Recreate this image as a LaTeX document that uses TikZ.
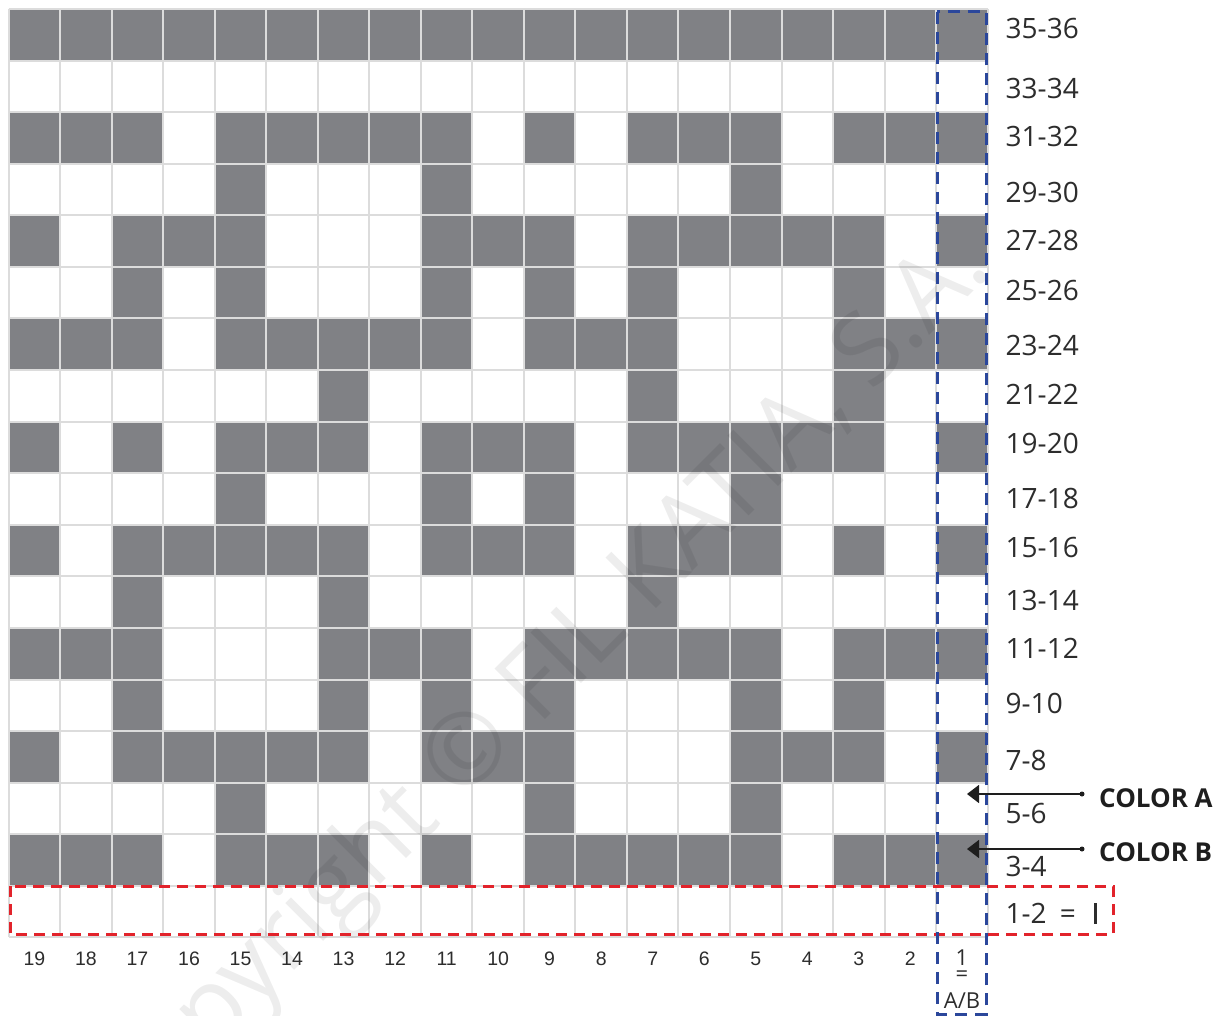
\documentclass[tikz,border=0pt]{standalone}
\usepackage{fontspec}
\setmainfont{Open Sans}
\newfontfamily\colfont{Liberation Sans}
\usetikzlibrary{arrows.meta}
\definecolor{cellgray}{RGB}{128,129,133}
\definecolor{gridline}{RGB}{220,220,220}
\definecolor{dashblue}{RGB}{43,71,155}
\definecolor{dashred}{RGB}{226,35,43}
\definecolor{txt}{RGB}{45,45,45}
\definecolor{ink}{RGB}{30,30,30}
\begin{document}
\begin{tikzpicture}[x=1pt,y=-1pt,
  cell/.style={fill=cellgray},
  gridln/.style={draw=gridline,line width=2pt},
  rowlab/.style={anchor=west,inner sep=0pt,text=txt,font=\fontsize{28}{28}\selectfont},
  collab/.style={inner sep=0pt,text=txt,font=\colfont\fontsize{19.5}{19.5}\selectfont},
  keylab/.style={inner sep=0pt,text=txt,font=\fontsize{22}{22}\selectfont},
  colorlab/.style={anchor=west,inner sep=0pt,text=ink,font=\bfseries\fontsize{26}{26}\selectfont},
  dotnode/.style={circle,fill=ink,inner sep=0pt,minimum size=5pt},
  pointer/.style={draw=ink,line width=1.5pt,-{Triangle[length=12pt,width=18pt]}},
  bluebox/.style={draw=dashblue,line width=3pt,dash pattern=on 12pt off 8pt},
  redbox/.style={draw=dashred,line width=3pt,dash pattern=on 11pt off 7pt},
  watermark/.style={rotate=45,text=black,opacity=0.07,font=\fontsize{100}{100}\selectfont}]
\useasboundingbox (0,0) rectangle (1215,1016);
\fill[white] (0,0) rectangle (1215,1016);
\def\cw{51.52}\def\ch{51.58}\def\gx{8.7}\def\gy{9}
% gray cells: row index (0 = top) / list of column numbers (19 = left ... 1 = right)
\foreach \r/\cols in {
  0/{1,2,3,4,5,6,7,8,9,10,11,12,13,14,15,16,17,18,19},
  2/{19,18,17,15,14,13,12,11,9,7,6,5,3,2,1},
  3/{15,11,5},
  4/{19,17,16,15,11,10,9,7,6,5,4,3,1},
  5/{17,15,11,9,7,3},
  6/{19,18,17,15,14,13,12,11,9,8,7,3,2,1},
  7/{13,7,3},
  8/{19,17,15,14,13,11,10,9,7,6,5,4,3,1},
  9/{15,11,9,5},
  10/{19,17,16,15,14,13,11,10,9,7,6,5,3,1},
  11/{17,13,7},
  12/{19,18,17,13,12,11,9,8,7,6,5,3,2,1},
  13/{17,13,11,9,5,3},
  14/{19,17,16,15,14,13,11,10,9,5,4,3,1},
  15/{15,9,5},
  16/{19,18,17,15,14,13,11,9,8,7,6,5,3,2,1}} {
  \foreach \c in \cols {
    \fill[cell] ({\gx+(19-\c)*\cw},{\gy+\r*\ch}) rectangle ++(\cw,\ch);
  }
}
% grid lines
\foreach \i in {0,...,19} \draw[gridln] ({\gx+\i*\cw},\gy) -- ++(0,{18*\ch});
\foreach \j in {0,...,18} \draw[gridln] (\gx,{\gy+\j*\ch}) -- ++({19*\cw},0);
% watermark
\node[watermark] (wm) at (540,688) {Copyright © FIL KATIA, S.A.};
% row labels
\node[rowlab] (r35) at (1005.5,29) {35-36};
\node[rowlab] (r33) at (1005.5,88.5) {33-34};
\node[rowlab] (r31) at (1005.5,136.5) {31-32};
\node[rowlab] (r29) at (1005.5,192) {29-30};
\node[rowlab] (r27) at (1005.5,241) {27-28};
\node[rowlab] (r25) at (1005.5,290) {25-26};
\node[rowlab] (r23) at (1005.5,345) {23-24};
\node[rowlab] (r21) at (1005.5,394) {21-22};
\node[rowlab] (r19) at (1005.5,443) {19-20};
\node[rowlab] (r17) at (1005.5,498) {17-18};
\node[rowlab] (r15) at (1005.5,547) {15-16};
\node[rowlab] (r13) at (1005.5,600) {13-14};
\node[rowlab] (r11) at (1005.5,648) {11-12};
\node[rowlab] (r9) at (1005.5,703) {9-10};
\node[rowlab] (r7) at (1005.5,760) {7-8};
\node[rowlab] (r5) at (1005.5,813) {5-6};
\node[rowlab] (r3) at (1005.5,866) {3-4};
\node[rowlab] (r1) at (1005.5,913) {1-2\hspace{13pt}=};
\draw[draw=txt,line width=3pt] (1095,903) coordinate (barT) -- (1095,924) coordinate (barB);
% column labels
\foreach \c in {2,...,19}
  \node[collab] (c\c) at ({\gx+(19-\c)*\cw+\cw/2},959) {\c};
\node[keylab] (k1) at (962,958) {1};
\node[keylab] (keq) at (962,976) {=};
\node[keylab] (kab) at (962,1001) {A/B};
% dashed boxes
\draw[redbox] (10,886) rectangle (1113,934);
\draw[bluebox] (937.3,12) rectangle (986.7,1014);
% color keys
\node[dotnode] (dA) at (1082,794) {};
\coordinate (tA) at (967,794);
\draw[pointer] (dA.center) -- (tA);
\node[colorlab] (lA) at (1099,798) {COLOR A};
\node[dotnode] (dB) at (1082,849) {};
\coordinate (tB) at (967,849);
\draw[pointer] (dB.center) -- (tB);
\node[colorlab] (lB) at (1099,852) {COLOR B};
\end{tikzpicture}
\end{document}
